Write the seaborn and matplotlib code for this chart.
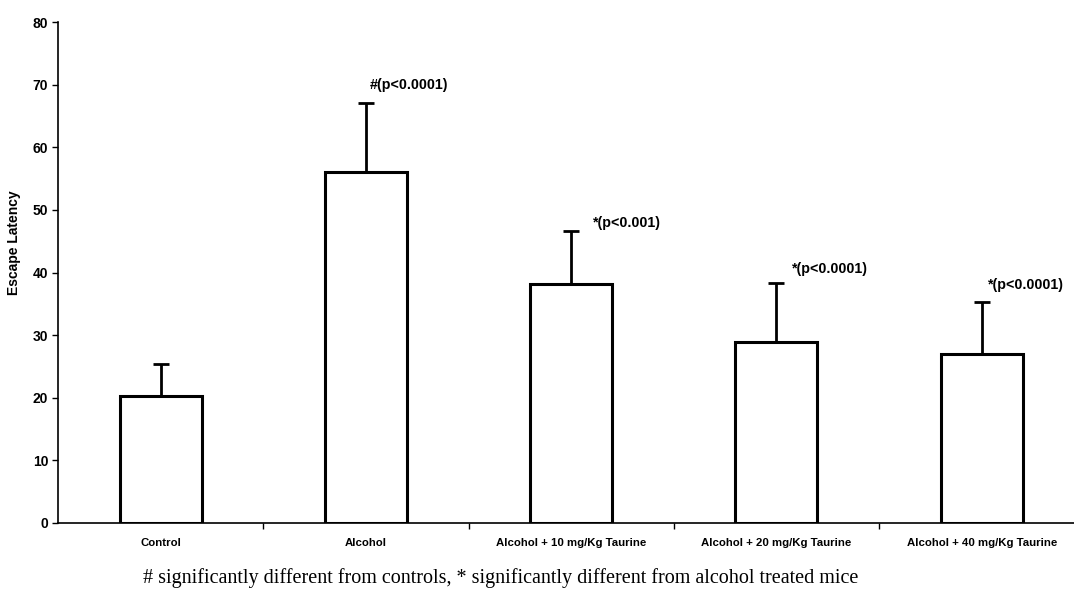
import numpy as np
import pandas as pd
import seaborn as sb
import matplotlib.pyplot as plt

groups = ['Control', 'Alcohol', 'Alcohol + 10 mg/Kg Taurine',
          'Alcohol + 20 mg/Kg Taurine', 'Alcohol + 40 mg/Kg Taurine']
tick_labels = ['Control', 'Alcohol', 'Alcohol + 10 mg/Kg Taurine',
               'Alcohol + 20 mg/Kg Taurine', 'Alcohol + 40 mg/Kg Taurine']
means = [20.3, 56.0, 38.1, 28.9, 27.0]
upper = [25.4, 67.1, 46.6, 38.3, 35.3]
notes = ['', '#(p<0.0001)', '*(p<0.001)', '*(p<0.0001)', '*(p<0.0001)']
note_y = [0, 70.0, 47.9, 40.6, 38.0]
caption = '# significantly different from controls, * significantly different from alcohol treated mice'

data = pd.DataFrame({'group': groups, 'latency': means})

sb.set_style('ticks')
plt.rcParams['font.family'] = ['Liberation Sans Narrow', 'Liberation Sans', 'DejaVu Sans']
plt.rcParams['text.color'] = 'black'
plt.rcParams['xtick.color'] = 'black'
plt.rcParams['ytick.color'] = 'black'
plt.rcParams['axes.labelcolor'] = 'black'
plt.rcParams['axes.edgecolor'] = 'black'

fig = plt.figure(figsize=(10.74, 5.97), dpi=100)
ax = fig.add_axes([0.054, 0.124, 0.946, 0.839])

sb.barplot(data=data, x='group', y='latency', color='white', edgecolor='black',
           linewidth=2.2, width=0.4, errorbar=None, ax=ax)

err = np.array(upper) - np.array(means)
ax.errorbar(np.arange(len(groups)), means, yerr=[np.zeros(len(groups)), err],
            fmt='none', ecolor='black', elinewidth=2, capsize=6, capthick=2, zorder=1)

# offsets of the p-value notes
note_dx = [0, 0.02, 0.105, 0.077, 0.03]
for i, txt in enumerate(notes):
    if txt:
        ax.text(i + note_dx[i], note_y[i], txt, fontsize=10.3, fontweight='bold',
                va='center', ha='left')

ax.set_ylim(0, 80)
ax.set_xlim(-0.5, 4.45)
ax.set_yticks(range(0, 81, 10))
ax.set_xticks(range(len(groups)))
ax.set_xticklabels(tick_labels, fontsize=8.2, fontweight='bold')
ax.tick_params(axis='x', length=0, pad=11)
ax.set_xticks(np.arange(0.5, 4.5, 1), minor=True)
ax.tick_params(axis='x', which='minor', length=4, width=1, direction='out')
ax.tick_params(axis='y', length=4, width=1, labelsize=10, pad=3)
for lbl in ax.get_yticklabels():
    lbl.set_fontweight('bold')
ax.set_xlabel('')
ax.set_ylabel('Escape Latency', fontsize=10, fontweight='bold')
ax.yaxis.set_label_coords(-0.036, 0.56)
sb.despine(ax=ax)
for s in ['left', 'bottom']:
    ax.spines[s].set_linewidth(1.2)

fig.text(0.466, 0.032, caption, fontsize=14.5, family='Liberation Serif',
         ha='center', va='center')

fig.savefig('out.png', dpi=100)
